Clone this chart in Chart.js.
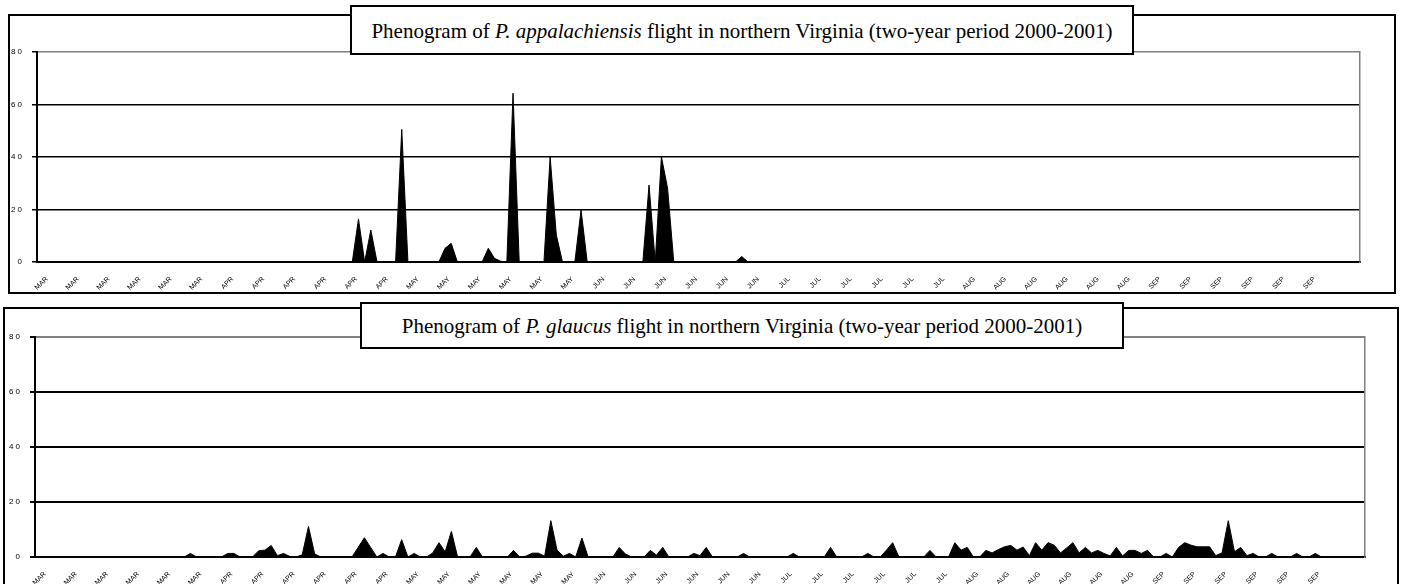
<!DOCTYPE html>
<html>
<head>
<meta charset="utf-8">
<script src="https://cdn.jsdelivr.net/npm/chart.js@4.4.0/dist/chart.umd.min.js"></script>
<style>
  html, body { margin: 0; padding: 0; background: #fff; width: 1401px; height: 584px; overflow: hidden; }
  .frame { position: absolute; border: 2px solid #000; box-sizing: border-box; }
  canvas { position: absolute; }
  .title {
    position: absolute; background: #fff; border: 2px solid #000; box-sizing: border-box;
    font-family: "Liberation Serif", "Times New Roman", serif; font-size: 21px; color: #000;
    text-align: center; white-space: nowrap;
  }
</style>
</head>
<body>
<div class="frame" style="left:8px;top:14px;width:1388px;height:280px"></div>
<canvas id="topChart" width="1401" height="300" style="left:0;top:0"></canvas>
<div class="title" style="left:350px;top:5px;width:784px;height:50px;line-height:48px">Phenogram of <i>P. appalachiensis</i> flight in northern Virginia (two-year period 2000-2001)</div>

<div class="frame" style="left:3px;top:307px;width:1396px;height:300px"></div>
<canvas id="bottomChart" width="1401" height="320" style="left:0;top:295px"></canvas>
<div class="title" style="left:360px;top:302px;width:764px;height:47px;line-height:44px">Phenogram of <i>P. glaucus</i> flight in northern Virginia (two-year period 2000-2001)</div>

<script>
// month names shown on every 5th day
const tickLabels = [
  'MAR','MAR','MAR','MAR','MAR','MAR',
  'APR','APR','APR','APR','APR','APR',
  'MAY','MAY','MAY','MAY','MAY','MAY',
  'JUN','JUN','JUN','JUN','JUN','JUN',
  'JUL','JUL','JUL','JUL','JUL','JUL',
  'AUG','AUG','AUG','AUG','AUG','AUG',
  'SEP','SEP','SEP','SEP','SEP','SEP'
];

// daily counts, P. appalachiensis
const appalachiensisCounts = [
  0,0,0,0,0,0,0,0,0,0,0,0,0,0,0,0,0,0,0,0,
  0,0,0,0,0,0,0,0,0,0,0,0,0,0,0,0,0,0,0,0,
  0,0,0,0,0,0,0,0,0,0,0,0,16.4,0,12.2,0,0,0,0,50.5,
  0,0,0,0,0,0,5.2,7.1,0,0,0,0,0,5.2,1.4,0.3,0,64.3,0,0,
  0,0,0,40.1,10.3,0,0,0,19.8,0,0,0,0,0,0,0,0,0,0,29.3,
  0,40.1,28.1,0,0,0,0,0,0,0,0,0,0,0,2.1,0,0,0,0,0,
  0,0,0,0,0,0,0,0,0,0,0,0,0,0,0,0,0,0,0,0,
  0,0,0,0,0,0,0,0,0,0,0,0,0,0,0,0,0,0,0,0,
  0,0,0,0,0,0,0,0,0,0,0,0,0,0,0,0,0,0,0,0,
  0,0,0,0,0,0,0,0,0,0,0,0,0,0,0,0,0,0,0,0,
  0,0,0,0,0,0,0,0,0,0,0,0,0,0,0
];

// daily counts, P. glaucus
const glaucusCounts = [
  0,0,0,0,0,0,0,0,0,0,0,0,0,0,0,0,0,0,0,0,
  0,0,0,0,0,1.3,0,0,0,0,0,1.3,1.3,0,0,0,2.3,2.5,4.2,0.5,
  1.3,0.2,0,0.8,11.1,1.1,0,0,0,0,0,0,3.5,7,3.5,0,1.3,0,0,6.3,
  0,1.3,0,0,1.5,5.2,1.9,9.3,0,0,0,3.5,0,0,0,0,0,2.4,0,0.3,
  1.4,1.4,0.3,13.2,2.5,0.3,1.3,0,6.9,0,0,0,0,0,3.5,1.1,0,0,0,2.4,
  0.7,3.5,0,0,0,0,1.3,0.5,3.5,0,0,0,0,0,1.3,0,0,0,0,0,
  0,0,1.3,0,0,0,0,0,3.5,0,0,0,0,0,1.3,0,0,2.5,5.2,0,
  0,0,0,0,2.4,0,0,0,5.2,2.5,3.5,0,0,2.4,1.5,2.7,3.7,4.2,2.5,3.6,
  0.5,5.2,2.5,5.2,4.3,1.5,3.3,5.2,1.5,3.5,1.5,2.4,1.3,0.4,3.5,0.4,2.4,2.4,1.3,2.4,
  0,0,1.3,0,3.5,5.2,4.3,3.7,3.7,3.7,0.5,1.5,13.2,1.9,3.5,0.5,1.3,0,0,1.3,
  0,0,0,1.3,0,0,1.3,0,0,0,0,0,0,0,0
];

const days = appalachiensisCounts.map((_, i) => i);

function makeChart(id, values, box) {
  const ctx = document.getElementById(id).getContext('2d');
  return new Chart(ctx, {
    type: 'line',
    data: {
      labels: days,
      datasets: [{
        data: values,
        borderColor: '#000',
        backgroundColor: '#000',
        borderWidth: 1,
        pointRadius: 0,
        tension: 0,
        fill: 'origin'
      }]
    },
    options: {
      responsive: false,
      animation: false,
      events: [],
      layout: { padding: { left: 0, top: box.top, right: box.right, bottom: 0 } },
      plugins: { legend: { display: false }, title: { display: false }, tooltip: { enabled: false } },
      scales: {
        x: {
          type: 'category',
          offset: false,
          grid: { display: false, drawTicks: false },
          border: { color: '#000', width: 2 },
          afterFit: (s) => { s.height = box.xHeight; },
          ticks: {
            autoSkip: false,
            maxRotation: 45,
            minRotation: 45,
            padding: 13,
            labelOffset: 10,
            color: '#000',
            font: { family: 'Liberation Sans, Arial', size: 7 },
            callback: (v, i) => (i % 5 === 0 && i / 5 < tickLabels.length) ? tickLabels[i / 5] : null
          }
        },
        y: {
          min: 0,
          max: 80,
          afterFit: (s) => { s.width = box.yWidth; },
          grid: {
            color: (c) => c.tick && c.tick.value === 80 ? '#808080' : '#000',
            lineWidth: box.gridWidth,
            tickLength: 5,
            tickColor: '#000'
          },
          border: { color: '#000', width: 2 },
          ticks: {
            stepSize: 20,
            padding: 10,
            color: '#000',
            font: { family: 'Liberation Sans, Arial', size: 8 },
            callback: (v) => String(v).split('').join(' ')
          }
        },
        y2: {
          position: 'right',
          min: 0,
          max: 80,
          afterFit: (s) => { s.width = 0; },
          grid: { display: false, drawTicks: false },
          ticks: { display: false },
          border: { color: '#808080', width: 1.5 }
        }
      }
    }
  });
}

makeChart('topChart', appalachiensisCounts, { top: 52, right: 41, yWidth: 37, xHeight: 38, gridWidth: 1.5 });
makeChart('bottomChart', glaucusCounts, { top: 42, right: 36, yWidth: 35, xHeight: 58, gridWidth: 2 });
</script>
</body>
</html>
